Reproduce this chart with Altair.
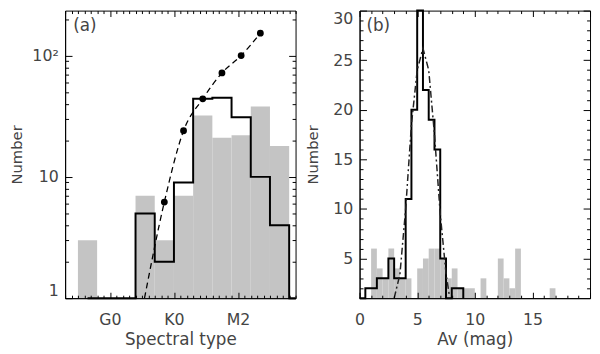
import altair as alt
import pandas as pd

FONT = "DejaVu Sans"
FW = 400
TXT = "#444444"
W = 234
H = 292

# ---------------- panel (a): spectral types ----------------
spec_bin_edges = [-5, -2, 1, 4, 7, 10, 13, 16, 19, 22, 25, 28]
grey_a_counts = [3, 0, 0, 7, 3, 7, 32, 21, 22, 38, 18]
black_a_x = [-3.5, 4, 7, 10, 13, 16, 19, 22, 25, 28, 29]
black_a_counts = [1, 5, 2, 9, 44, 45, 31, 10, 4, 1, 1]
model_a_x = [5.4, 8.5, 11.5, 14.5, 17.5, 20.5, 23.5]
model_a_y = [1.0, 6.2, 24, 44, 72, 100, 153]
dots_a_x = [8.5, 11.5, 14.5, 17.5, 20.5, 23.5]
dots_a_y = [6.2, 24, 44, 72, 100, 153]
spec_tick_values = [0, 10, 20]
spec_tick_labels = ["G0", "K0", "M2"]
log_tick_values = [1, 10, 100]
log_tick_labels = ["1", "10", "10²"]

# ---------------- panel (b): Av ----------------
av_bin_width = 0.5
grey_b_start = [1.0, 1.5, 2.0, 2.5, 3.0, 3.5, 4.0, 5.0, 5.5, 6.0, 6.5, 7.0, 7.5,
                8.0, 8.5, 9.0, 9.5, 10.5, 12.0, 12.5, 13.0, 13.5, 16.5]
grey_b_counts = [6, 4, 3, 6, 4, 3, 3, 4, 5, 6, 6, 5, 3,
                 4, 2, 2, 2, 3, 5, 3, 2, 6, 2]
black_b_x = [0, 0.5, 1.0, 1.5, 2.0, 2.5, 3.0, 3.5, 4.0, 4.5, 5.0, 5.5, 6.0,
             6.5, 7.0, 7.5, 8.0, 8.5, 9.0]
black_b_counts = [1, 2, 2, 3, 3, 5, 3, 3, 11, 20, 30, 22, 19,
                  16, 5, 1, 2, 2, 1]
gauss_b_x = [3.0, 3.5, 4.0, 4.5, 5.0, 5.5, 6.0, 6.5, 7.0, 7.5, 7.8]
gauss_b_y = [1.0, 3.4, 10.0, 18.5, 24.0, 26.2, 24.0, 17.5, 9.5, 3.5, 1.2]
av_tick_values = [0, 5, 10, 15]
num_tick_values = [5, 10, 15, 20, 25, 30]

# ---------------- tables ----------------
grey_a = pd.DataFrame({"x0": spec_bin_edges[:-1], "x1": spec_bin_edges[1:],
                       "n": grey_a_counts})
grey_a = grey_a[grey_a["n"] > 0].assign(base=1.0)
black_a = pd.DataFrame({"x": black_a_x, "n": black_a_counts})
model_a = pd.DataFrame({"x": model_a_x, "n": model_a_y})
dots_a = pd.DataFrame({"x": dots_a_x, "n": dots_a_y})

grey_b = pd.DataFrame({"x0": grey_b_start,
                       "x1": [s + av_bin_width for s in grey_b_start],
                       "n": grey_b_counts, "base": 1.0})
black_b = pd.DataFrame({"x": black_b_x, "n": black_b_counts})
gauss_b = pd.DataFrame({"x": gauss_b_x, "n": gauss_b_y})


def expr_from(values, labels):
    parts = [f"datum.value == {v} ? '{l}'" for v, l in zip(values, labels)]
    return " : ".join(parts) + " : ''"


def tick_axis(orient, values, size):
    return alt.Axis(orient=orient, values=values, labels=False, domain=False,
                    grid=False, ticks=True, tickSize=size, offset=-size,
                    tickColor="black", tickWidth=1, title=None, zindex=1,
                    minExtent=0)


def label_axis(orient, values, title, expr=None, flush=False, lpad=6, tpad=6):
    kw = dict(orient=orient, values=values, ticks=False, tickSize=0,
              domain=True, domainColor="black", domainWidth=1, grid=False,
              labelPadding=lpad, labelFont=FONT, labelFontSize=16,
              labelFontWeight=FW, labelColor=TXT, labelFlush=flush,
              title=title, titleFont=FONT, titleFontWeight=FW,
              titleColor=TXT, titlePadding=tpad, zindex=1, minExtent=0)
    if expr:
        kw["labelExpr"] = expr
    if orient == "bottom":
        kw["titleFontSize"] = 17
    else:
        kw["titleFontSize"] = 15
    return alt.Axis(**kw)


def rect_layer(df, xs, ys, xaxis, yaxis, **mark):
    return alt.Chart(df).mark_rect(**mark).encode(
        x=alt.X("x0:Q", scale=xs, axis=xaxis), x2="x1:Q",
        y=alt.Y("n:Q", scale=ys, axis=yaxis), y2="base:Q")


# ---------------- panel (a) ----------------
xs_a = alt.Scale(domain=[-7, 29], nice=False, zero=False)
ys_a = alt.Scale(type="log", domain=[1, 235], nice=False)
spec_major = spec_tick_values
spec_minor = [v for v in range(-7, 30) if v not in spec_major]
log_major = log_tick_values
log_minor = [2, 3, 4, 5, 6, 7, 8, 9, 20, 30, 40, 50, 60, 70, 80, 90, 200]

a_grey = rect_layer(
    grey_a, xs_a, ys_a,
    label_axis("bottom", spec_tick_values, "Spectral type",
               expr_from(spec_tick_values, spec_tick_labels), lpad=14, tpad=4),
    label_axis("left", log_tick_values, "Number",
               expr_from(log_tick_values, log_tick_labels),
               flush=True, lpad=7, tpad=8),
    color="#c4c4c4")
a_black = alt.Chart(black_a).mark_line(
    color="black", strokeWidth=2, interpolate="step-after", strokeJoin="miter"
).encode(
    x=alt.X("x:Q", scale=xs_a, axis=tick_axis("bottom", spec_major, 6)),
    y=alt.Y("n:Q", scale=ys_a, axis=tick_axis("left", log_major, 7)),
)
a_model = alt.Chart(model_a).mark_line(
    color="black", strokeWidth=1.3, strokeDash=[6, 4], interpolate="monotone",
    clip=True
).encode(
    x=alt.X("x:Q", scale=xs_a, axis=tick_axis("bottom", spec_minor, 3)),
    y=alt.Y("n:Q", scale=ys_a, axis=tick_axis("left", log_minor, 3.5)),
)
a_dots = alt.Chart(dots_a).mark_circle(color="black", size=48, opacity=1).encode(
    x=alt.X("x:Q", scale=xs_a, axis=tick_axis("top", spec_major, 6)),
    y=alt.Y("n:Q", scale=ys_a, axis=tick_axis("right", log_major, 7)),
)
a_ghost = rect_layer(grey_a, xs_a, ys_a, tick_axis("top", spec_minor, 3),
                     tick_axis("right", log_minor, 3.5), opacity=0)
a_text = alt.Chart(pd.DataFrame({"t": ["(a)"]})).mark_text(
    font=FONT, fontSize=17, fontWeight=FW, color=TXT, align="center",
    baseline="middle"
).encode(x=alt.value(20), y=alt.value(16), text="t:N")

panel_a = alt.layer(a_grey, a_black, a_model, a_dots, a_ghost, a_text).resolve_axis(
    x="independent", y="independent").properties(width=W, height=H)

# ---------------- panel (b) ----------------
xs_b = alt.Scale(domain=[0, 20], nice=False, zero=False)
ys_b = alt.Scale(domain=[1, 30], nice=False, zero=False)
av_major = [0, 5, 10, 15, 20]
av_minor = [v for v in range(1, 20) if v % 5 != 0]
num_major = num_tick_values
num_minor = [v for v in range(2, 30) if v % 5 != 0]

b_grey = rect_layer(
    grey_b, xs_b, ys_b,
    label_axis("bottom", av_tick_values, "Av (mag)", lpad=14, tpad=4),
    label_axis("left", num_tick_values, "Number", flush=True, lpad=7, tpad=12),
    color="#c4c4c4")
b_black = alt.Chart(black_b).mark_line(
    color="black", strokeWidth=2, interpolate="step-after", strokeJoin="miter"
).encode(
    x=alt.X("x:Q", scale=xs_b, axis=tick_axis("bottom", av_major, 6)),
    y=alt.Y("n:Q", scale=ys_b, axis=tick_axis("left", num_major, 7)),
)
b_gauss = alt.Chart(gauss_b).mark_line(
    color="#222222", strokeWidth=1.5, strokeDash=[7, 3, 2, 3], clip=True
).encode(
    x=alt.X("x:Q", scale=xs_b, axis=tick_axis("bottom", av_minor, 3)),
    y=alt.Y("n:Q", scale=ys_b, axis=tick_axis("left", num_minor, 3.5)),
)
b_ghost1 = rect_layer(grey_b, xs_b, ys_b, tick_axis("top", av_major, 6),
                      tick_axis("right", num_major, 7), opacity=0)
b_ghost2 = rect_layer(grey_b, xs_b, ys_b, tick_axis("top", av_minor, 3),
                      tick_axis("right", num_minor, 3.5), opacity=0)
b_text = alt.Chart(pd.DataFrame({"t": ["(b)"]})).mark_text(
    font=FONT, fontSize=17, fontWeight=FW, color=TXT, align="center",
    baseline="middle"
).encode(x=alt.value(19), y=alt.value(16), text="t:N")

panel_b = alt.layer(b_grey, b_black, b_gauss, b_ghost1, b_ghost2, b_text).resolve_axis(
    x="independent", y="independent").properties(width=W, height=H)

chart = alt.hconcat(panel_a, panel_b, spacing=65, bounds="flush").properties(
    padding={"left": 0, "top": -5, "right": 1, "bottom": 0}
).configure_view(stroke="black", strokeWidth=1)

chart.save("out.html", embed_options={"renderer": "svg", "actions": False})
